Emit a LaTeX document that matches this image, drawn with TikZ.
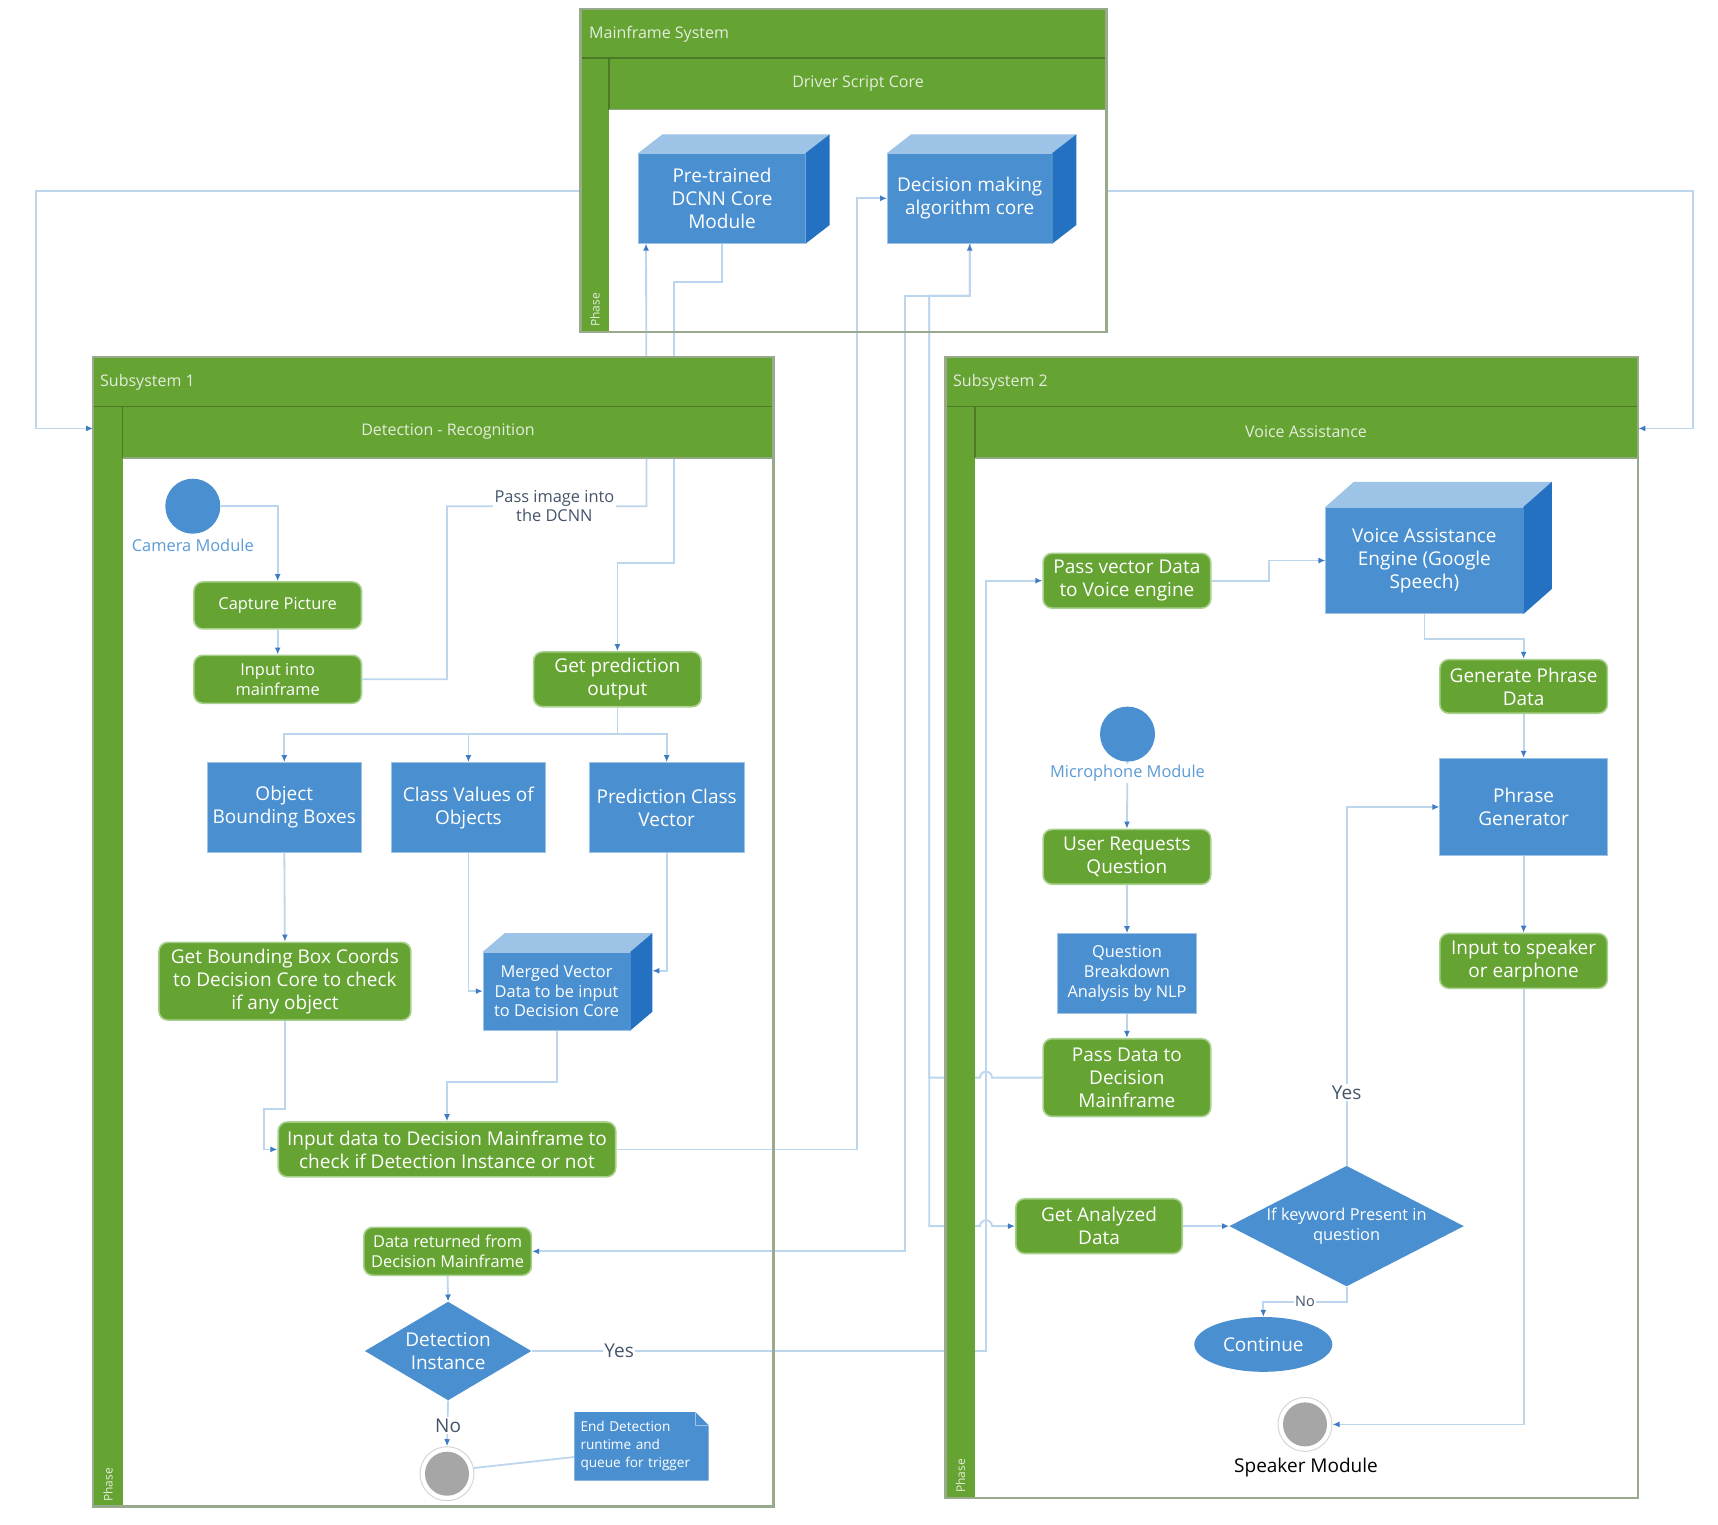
\documentclass[tikz,border=0pt]{standalone}
\usepackage{fontspec}
\setmainfont{Open Sans}
\usetikzlibrary{arrows.meta,shapes.geometric,calc}
\definecolor{grn}{HTML}{65A332}
\definecolor{grndark}{HTML}{4C7A26}
\definecolor{grnlite}{HTML}{A9D18E}
\definecolor{poolc}{HTML}{98AA8B}
\definecolor{headb}{HTML}{8FA87E}
\definecolor{blu}{HTML}{4A8FD0}
\definecolor{bluedge}{HTML}{9DC3E6}
\definecolor{blutop}{HTML}{9DC3E6}
\definecolor{bluside}{HTML}{2471C1}
\definecolor{linec}{HTML}{BCD6EE}
\definecolor{tipc}{HTML}{3E7BC2}
\definecolor{lblc}{HTML}{44546A}
\definecolor{modc}{HTML}{5B9BD5}
\definecolor{hdrc}{HTML}{E4EDDC}
\definecolor{ringc}{HTML}{D6D6D6}
\definecolor{endg}{HTML}{A6A6A6}
\pgfdeclarelayer{bgA}\pgfdeclarelayer{bgB}\pgfdeclarelayer{bgC}
\pgfsetlayers{bgA,bgB,bgC,main}
\newcommand\szL{\fontsize{19}{23}\selectfont}
\newcommand\szS{\fontsize{16.4}{19.7}\selectfont}
\newcommand\szN{\fontsize{13.6}{18}\selectfont}
\newcommand\szH{\fontsize{16}{19}\selectfont}
\newcommand\cubefaces[3]{%
  \fill[blutop] (#1.north west) -- ++(#2,-#3) -- ($(#1.north east)+(#2,-#3)$) -- (#1.north east) -- cycle;
  \fill[bluside] (#1.north east) -- ++(#2,-#3) -- ($(#1.south east)+(#2,-#3)$) -- (#1.south east) -- cycle;}
\newcommand\poolbands[7]{%
  \fill[grn] (#1,#2) rectangle (#3,#5);
  \fill[grn] (#1,#5) rectangle (#6,#4);
  \fill[grn] (#6,#5) rectangle (#3,#7);
  \draw[grndark, line width=1.5pt] (#1,#5) -- (#3,#5) (#6,#5) -- (#6,#7);
  \draw[headb, line width=1.5pt] (#6,#7) -- (#3,#7);
  \draw[poolc, line width=2.5pt] (#1,#2) rectangle (#3,#4);}
\begin{document}
\begin{tikzpicture}[x=1pt,y=-1pt,
  cline/.style={draw=linec, line width=1.8pt},
  arr/.style={cline, -{Latex[length=7pt,width=6pt,color=tipc]}},
  gbox/.style={rectangle, rounded corners=9pt, fill=grn, draw=grnlite, line width=1.6pt, text=white, align=center, inner sep=1pt, font=\szL},
  bbox/.style={rectangle, fill=blu, draw=bluedge, line width=0.8pt, text=white, align=center, inner sep=1pt, font=\szL},
  dia/.style={diamond, fill=blu, text=white, align=center, inner sep=0pt, font=\szL},
  circ/.style={circle, fill=blu, minimum size=55pt, inner sep=0pt},
  endc/.style={circle, fill=white, draw=ringc, line width=1pt, minimum size=54pt, inner sep=0pt, path picture={\fill[endg] (path picture bounding box.center) circle (22pt);}},
  modlbl/.style={text=modc, font=\szS, fill=white, inner sep=1pt},
  lbl/.style={text=lblc, font=\szS, fill=white, inner sep=1.5pt, align=center},
  hdr/.style={text=hdrc, font=\szH, inner sep=0pt},
  phase/.style={text=hdrc, font=\fontsize{12}{14}\selectfont, rotate=90, anchor=west, inner sep=0pt},
  poolnode/.style={rectangle, fill=white, inner sep=0pt, anchor=north west},
  notetext/.style={text=white, font=\szN, align=left, text width=122pt, inner sep=6pt, minimum height=68pt}]
\useasboundingbox (0,0) rectangle (1718,1524);
\begin{pgfonlayer}{bgA}
\fill[white] (0,0) rectangle (1718,1524);
\node[poolnode, minimum width=526pt, minimum height=323.2pt] (mf) at (580.7,8.8) {};
\node[poolnode, minimum width=680.5pt, minimum height=1149.4pt] (s1) at (93.1,357.2) {};
\node[poolnode, minimum width=692.4pt, minimum height=1140.6pt] (s2) at (945.6,357.2) {};
\end{pgfonlayer}
\begin{pgfonlayer}{bgC}
\poolbands{580.7}{8.8}{1106.7}{332}{58.1}{609.2}{109.6}
\poolbands{93.1}{357.2}{773.6}{1506.6}{406.5}{122.7}{458}
\poolbands{945.6}{357.2}{1638}{1497.8}{406.5}{975.2}{458}
\end{pgfonlayer}
% headers
\node[hdr, anchor=west] (mfT) at (589,34) {Mainframe System};
\node[hdr] (mfL) at (858,84) {Driver Script Core};
\node[phase] (mfP) at (595,327) {Phase};
\node[hdr, anchor=west] (s1T) at (100,382) {Subsystem 1};
\node[hdr] (s1L) at (448,432) {Detection - Recognition};
\node[phase] (s1P) at (108,1502) {Phase};
\node[hdr, anchor=west] (s2T) at (953,382) {Subsystem 2};
\node[hdr] (s2L) at (1306,432) {Voice Assistance};
\node[phase] (s2P) at (960.5,1493) {Phase};
% mainframe
\node[bbox, minimum width=166.5pt, minimum height=89.8pt] (dcnn) at (722,198.3) {Pre-trained\\DCNN Core\\Module};
\cubefaces{dcnn}{24}{18.6}
\node[bbox, minimum width=164.4pt, minimum height=89.8pt] (dec) at (969.7,198.3) {Decision making\\algorithm core};
\cubefaces{dec}{24}{18.6}
% subsystem 1
\node[circ] (cam) at (192.8,506.2) {};
\node[modlbl] (camL) at (192.8,545.7) {Camera Module};
\node[gbox, font=\szS, minimum width=167.6pt, minimum height=47pt] (cap) at (277.7,605.4) {Capture Picture};
\node[gbox, font=\szS, minimum width=167.6pt, minimum height=48pt] (inp) at (277.7,679.3) {Input into\\mainframe};
\node[gbox, minimum width=167.6pt, minimum height=54.8pt] (pred) at (617.4,679.3) {Get prediction\\output};
\node[bbox, minimum width=154.5pt, minimum height=90pt] (obb) at (284.3,807.5) {Object\\Bounding Boxes};
\node[bbox, minimum width=154.5pt, minimum height=90pt] (cls) at (468.4,807.5) {Class Values of\\Objects};
\node[bbox, minimum width=154.5pt, minimum height=90pt] (pcv) at (666.7,807.5) {Prediction Class\\Vector};
\node[gbox, minimum width=252pt, minimum height=77.8pt] (gbb) at (284.9,981.2) {Get Bounding Box Coords\\to Decision Core to check\\if any object};
\node[bbox, font=\szS, minimum width=146.8pt, minimum height=77.8pt] (mrg) at (556.6,991.1) {Merged Vector\\Data to be input\\to Decision Core};
\cubefaces{mrg}{22}{18.7}
\node[gbox, minimum width=337.5pt, minimum height=54.8pt] (ind) at (447,1149.4) {Input data to Decision Mainframe to\\check if Detection Instance or not};
\node[gbox, font=\szS, minimum width=167.6pt, minimum height=48pt] (dret) at (447.6,1251.3) {Data returned from\\Decision Mainframe};
\node[dia, shape aspect=1.7, minimum width=166.5pt, minimum height=98.6pt] (det) at (448.1,1351) {Detection\\Instance};
\node[endc] (end1) at (447,1473.7) {};
\node[notetext] (note) at (641.5,1446.4) {End Detection\\runtime and\\queue for trigger};
\begin{pgfonlayer}{bgC}
\fill[blu] (note.north west) -- ($(note.north east)+(-13,0)$) -- ($(note.north east)+(0,13)$) -- (note.south east) -- (note.south west) -- cycle;
\draw[bluedge, line width=0.8pt] ($(note.north east)+(-13,0)$) -- ($(note.north east)+(-13,13)$) -- ($(note.north east)+(0,13)$);
\end{pgfonlayer}
% subsystem 2
\node[gbox, minimum width=167.6pt, minimum height=54.8pt] (pvd) at (1126.9,580.7) {Pass vector Data\\to Voice engine};
\node[bbox, minimum width=197.2pt, minimum height=106.3pt] (vae) at (1424.4,560.5) {Voice Assistance\\Engine (Google\\Speech)};
\cubefaces{vae}{28.5}{25.2}
\node[gbox, minimum width=167.6pt, minimum height=53.7pt] (gpd) at (1523.6,686.4) {Generate Phrase\\Data};
\node[circ] (mic) at (1127.5,734.1) {};
\node[modlbl] (micL) at (1127.5,773.6) {Microphone Module};
\node[gbox, minimum width=167.6pt, minimum height=54.8pt] (urq) at (1126.9,856.8) {User Requests\\Question};
\node[bbox, font=\szS, minimum width=139.1pt, minimum height=80pt] (qba) at (1127,973.5) {Question\\Breakdown\\Analysis by NLP};
\node[gbox, minimum width=167.6pt, minimum height=77.8pt] (pdd) at (1126.9,1077.6) {Pass Data to\\Decision\\Mainframe};
\node[bbox, minimum width=167.6pt, minimum height=97.5pt] (phg) at (1523.6,807) {Phrase\\Generator};
\node[gbox, minimum width=167.6pt, minimum height=54.8pt] (its) at (1523.6,960.9) {Input to speaker\\or earphone};
\node[gbox, minimum width=166.5pt, minimum height=54.8pt] (gad) at (1099,1226.1) {Get Analyzed\\Data};
\node[dia, font=\szS, shape aspect=1.95, minimum width=234.5pt, minimum height=120.5pt] (kw) at (1346.6,1226.1) {If keyword Present in\\question};
\node[ellipse, fill=blu, text=white, font=\szL, minimum width=138pt, minimum height=54.8pt, inner sep=0pt] (cont) at (1263.3,1344.4) {Continue};
\node[endc] (end2) at (1305,1424.4) {};
\node[text=black, font=\szL, inner sep=1pt] (spk) at (1306,1467.1) {Speaker Module};
% connectors
\coordinate (yA) at (0,190.6);
\coordinate (yB) at (0,428.4);
\begin{pgfonlayer}{bgB}
\draw[arr] (mf.west |- yA) -- (36.2,190.6) -- (36.2,428.4) -- (s1.west |- yB);
\draw[arr] (mf.east |- yA) -- (1692.9,190.6) -- (1692.9,428.4) -- (s2.east |- yB);
\draw[arr] (cam.east) -| (cap.north);
\draw[arr] (cap.south) -- (inp.north);
\draw[arr] (inp.east) -- (447,679.3) -- (447,506.2) -- (646.5,506.2) -- ($(dcnn.south west)+(7.7,0)$);
\draw[arr] (dcnn.south) -- (722,281.6) -- (673.9,281.6) -- (673.9,563.2) -- (617.4,563.2) -- (pred.north);
\draw[arr] (pred.south) -- ++(0,26.3) -| (obb.north);
\draw[arr] (pred.south) -- ++(0,26.3) -| (cls.north);
\draw[arr] (pred.south) -- ++(0,26.3) -| (pcv.north);
\draw[arr] (obb.south) -- (gbb.north);
\draw[arr] (cls.south) |- (mrg.west);
\draw[arr] (pcv.south) |- ($(mrg.east)+(22,-20.3)$);
\draw[arr] (gbb.south) -- (284.9,1108.8) -- (264,1108.8) |- (ind.west);
\draw[arr] (mrg.south) -- ++(0,51.5) -| (ind.north);
\draw[arr] (ind.east) -- (856.8,1149.4) |- (dec.west);
\draw[arr] (dec.south) -- (969.7,295.8) -- (905,295.8) |- (dret.east);
\draw[arr] (dec.south) -- (969.7,295.8) -- (929.2,295.8) -- (929.2,1226.1) -- (980,1226.1) arc[start angle=180,end angle=0,radius=6pt] -- (gad.west);
\draw[arr] (pdd.west) -- (992,1077.6) arc[start angle=0,end angle=180,radius=6pt] -- (929.2,1077.6) -- (929.2,295.8) -- (969.7,295.8) -- (dec.south);
\draw[arr] (dret.south) -- (det.north);
\draw[arr] (det.south) -- (end1.north);
\draw[arr] (det.east) -- (986.1,1351) |- (pvd.west);
\draw[cline] (end1.12) -- ($(note.west)+(0,10.6)$);
\draw[arr] (pvd.east) -- (1268.8,580.7) |- (vae.west);
\draw[arr] (vae.south) -- ++(0,25.2) -| (gpd.north);
\draw[arr] (gpd.south) -- (phg.north);
\draw[arr] (phg.south) -- (its.north);
\draw[arr] (its.south) |- (end2.east);
\draw[arr] (mic.south) -- (urq.north);
\draw[arr] (urq.south) -- (qba.north);
\draw[arr] (qba.south) -- (pdd.north);
\draw[arr] (gad.east) -- (kw.west);
\draw[arr] (kw.north) |- (phg.west);
\draw[arr] (kw.south) -- ++(0,15.3) -| (cont.north);
\end{pgfonlayer}
% labels
\node[lbl] (lpass) at (554.4,506.2) {Pass image into\\the DCNN};
\node[lbl, font=\szL] (lyes1) at (619.1,1351) {Yes};
\node[lbl, font=\szL] (lno1) at (448.1,1425.5) {No};
\node[lbl, font=\szL] (lyes2) at (1346.6,1092.4) {Yes};
\node[lbl, font=\fontsize{14.5}{17}\selectfont] (lno2) at (1305,1301.7) {No};
\end{tikzpicture}
\end{document}
